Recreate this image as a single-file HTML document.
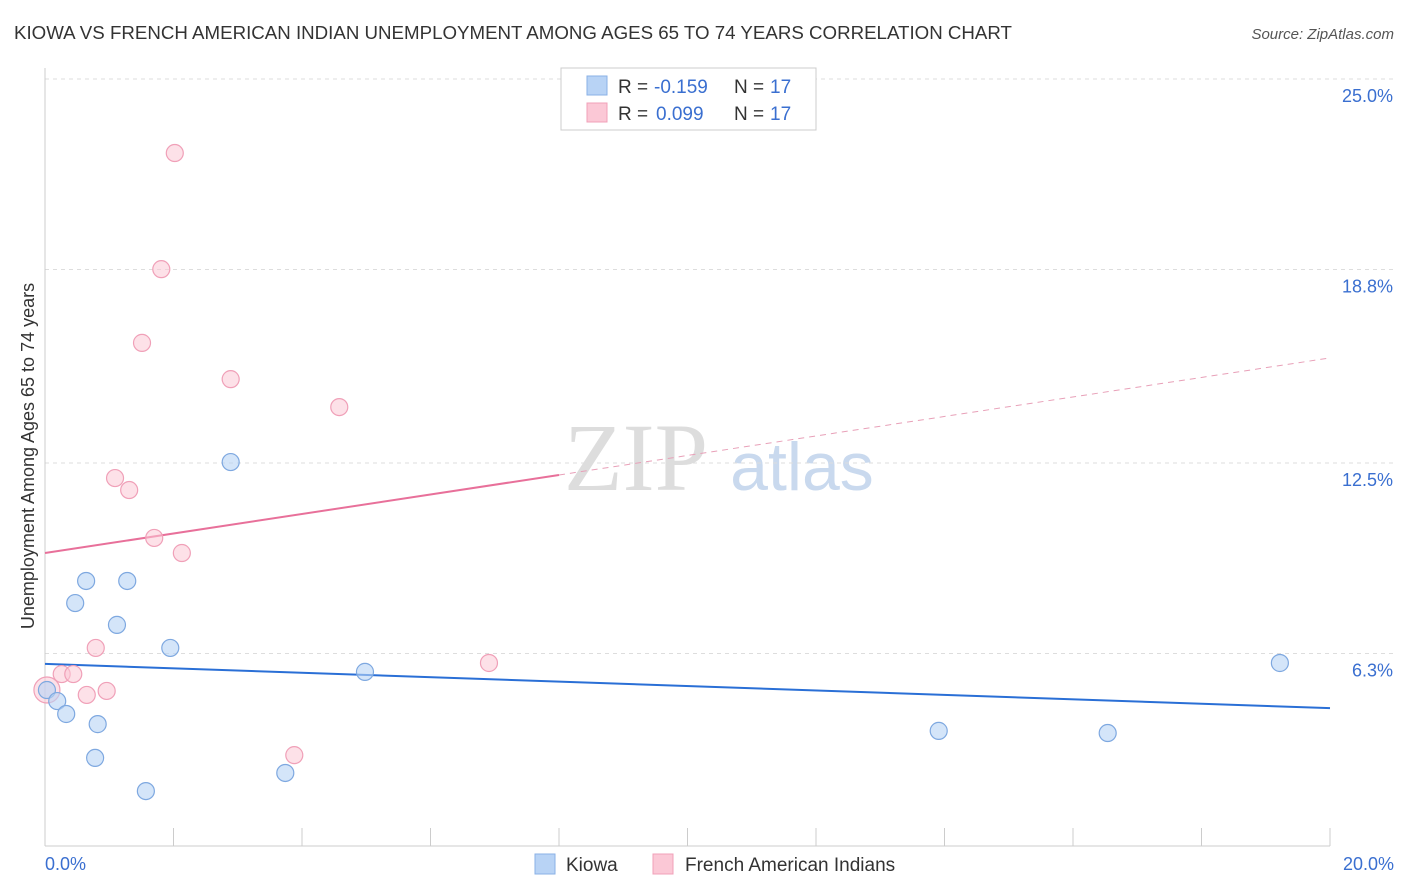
<!DOCTYPE html>
<html><head><meta charset="utf-8"><style>
body{margin:0;background:#fff;font-family:"Liberation Sans",sans-serif;}
svg{display:block}
</style></head><body>
<svg width="1406" height="892" xmlns="http://www.w3.org/2000/svg">
<text x="14" y="39" font-size="18" fill="#333" textLength="998" lengthAdjust="spacingAndGlyphs">KIOWA VS FRENCH AMERICAN INDIAN UNEMPLOYMENT AMONG AGES 65 TO 74 YEARS CORRELATION CHART</text>
<text x="1394" y="39" font-size="15" fill="#555" font-style="italic" text-anchor="end">Source: ZipAtlas.com</text>
<text x="636" y="490" font-size="96" fill="#ddd" font-family="Liberation Serif,serif" text-anchor="middle">ZIP</text>
<text x="802" y="490" font-size="68" fill="#c9d9ee" text-anchor="middle">atlas</text>
<g id="grid"></g>
<line x1="45" y1="68" x2="45" y2="846" stroke="#ccc"/>
<line x1="45" y1="846" x2="1330" y2="846" stroke="#ccc"/>
<g id="ticks"></g>
<text transform="translate(34,456) rotate(-90)" font-size="18" fill="#333" text-anchor="middle">Unemployment Among Ages 65 to 74 years</text>
<text x="45" y="870" font-size="18" fill="#3a6fd0">0.0%</text>
<text x="1394" y="870" font-size="18" fill="#3a6fd0" text-anchor="end">20.0%</text>
<g id="lines"></g>
<g id="points"></g>
<g font-size="19">
<rect x="561" y="68" width="255" height="62" fill="#fff" stroke="#ccc"/>
<rect x="587" y="76" width="20" height="19" fill="#b8d3f5" stroke="#8ab0e6"/>
<rect x="587" y="103" width="20" height="19" fill="#fbc8d6" stroke="#f0a0b8"/>
<text x="618" y="93" fill="#333">R =</text>
<text x="654" y="93" fill="#3a6fd0">-0.159</text>
<text x="734" y="93" fill="#333">N =</text>
<text x="770" y="93" fill="#3a6fd0">17</text>
<text x="618" y="120" fill="#333">R =</text>
<text x="656" y="120" fill="#3a6fd0">0.099</text>
<text x="734" y="120" fill="#333">N =</text>
<text x="770" y="120" fill="#3a6fd0">17</text>
</g>
<g>
<rect x="535" y="854" width="20" height="20" fill="#b8d3f5" stroke="#8ab0e6"/>
<text x="566" y="871" font-size="19" fill="#333">Kiowa</text>
<rect x="653" y="854" width="20" height="20" fill="#fbc8d6" stroke="#f0a0b8"/>
<text x="685" y="871" font-size="19" fill="#333">French American Indians</text>
</g>
</svg>
<script>
const yTicks=[25.0,18.8,12.5,6.3];
const yTickLabels=["25.0%","18.8%","12.5%","6.3%"];
const kiowaX=[0.03,0.19,0.33,0.47,0.64,0.78,0.82,1.12,1.28,1.57,1.95,2.89,3.74,4.98,13.91,16.54,19.22];
const kiowaY=[5.11,4.75,4.33,7.94,8.66,2.90,4.00,7.23,8.66,1.82,6.48,12.53,2.41,5.70,3.78,3.71,5.99];
const frenchX=[0.03,0.26,0.44,0.65,0.79,0.96,1.09,1.31,1.51,1.70,1.81,2.02,2.13,2.89,3.88,4.58,6.91];
const frenchY=[5.11,5.63,5.63,4.95,6.48,5.08,12.01,11.62,16.41,10.06,18.81,22.59,9.57,15.23,2.99,14.32,5.99];
const kiowaTrend=[5.96,4.52];
const frenchTrend=[9.57,15.92];
const frenchSolidEnd=8.0;
const NS="http://www.w3.org/2000/svg";
const sx=v=>45+v/20*1285;
const sy=v=>847-v/6.25*192;
function mk(t,a,p){const e=document.createElementNS(NS,t);for(const k in a)e.setAttribute(k,a[k]);document.getElementById(p).appendChild(e);return e;}
yTicks.forEach((t,i)=>{
 const l=mk('line',{x1:45,x2:1394,y1:sy(t),y2:sy(t),stroke:'#ddd','stroke-dasharray':'4,4'},'grid');
 
 
 const tx=mk('text',{x:1393,y:sy(t)+23,'font-size':18,fill:'#3a6fd0','text-anchor':'end','font-family':'Liberation Sans'},'grid');
 tx.textContent=yTickLabels[i];
 
 
});
for(let i=1;i<=10;i++){
 const l=mk('line',{x1:sx(i*2),x2:sx(i*2),y1:828,y2:846,stroke:'#ccc'},'ticks');
 
 
}
let l=mk('line',{x1:sx(0),y1:sy(kiowaTrend[0]),x2:sx(20),y2:sy(kiowaTrend[1]),stroke:'#2a6fd6','stroke-width':2},'lines');


const fy=x=>frenchTrend[0]+(frenchTrend[1]-frenchTrend[0])*x/20;
l=mk('line',{x1:sx(0),y1:sy(fy(0)),x2:sx(frenchSolidEnd),y2:sy(fy(frenchSolidEnd)),stroke:'#e8709a','stroke-width':2},'lines');


l=mk('line',{x1:sx(frenchSolidEnd),y1:sy(fy(frenchSolidEnd)),x2:sx(20),y2:sy(fy(20)),stroke:'#e8a0b8','stroke-width':1,'stroke-dasharray':'6,5'},'lines');


frenchX.forEach((x,i)=>{
 const c=mk('circle',{cx:sx(x),cy:sy(frenchY[i]),r:i==0?13:8.5,fill:'rgba(251,200,214,0.55)',stroke:'#f0a0b8','stroke-width':1.2},'points');
 
 
});
kiowaX.forEach((x,i)=>{
 const c=mk('circle',{cx:sx(x),cy:sy(kiowaY[i]),r:8.5,fill:'rgba(184,211,245,0.6)',stroke:'#7ea8e0','stroke-width':1.2},'points');
 
 
});
</script>
</body></html>
